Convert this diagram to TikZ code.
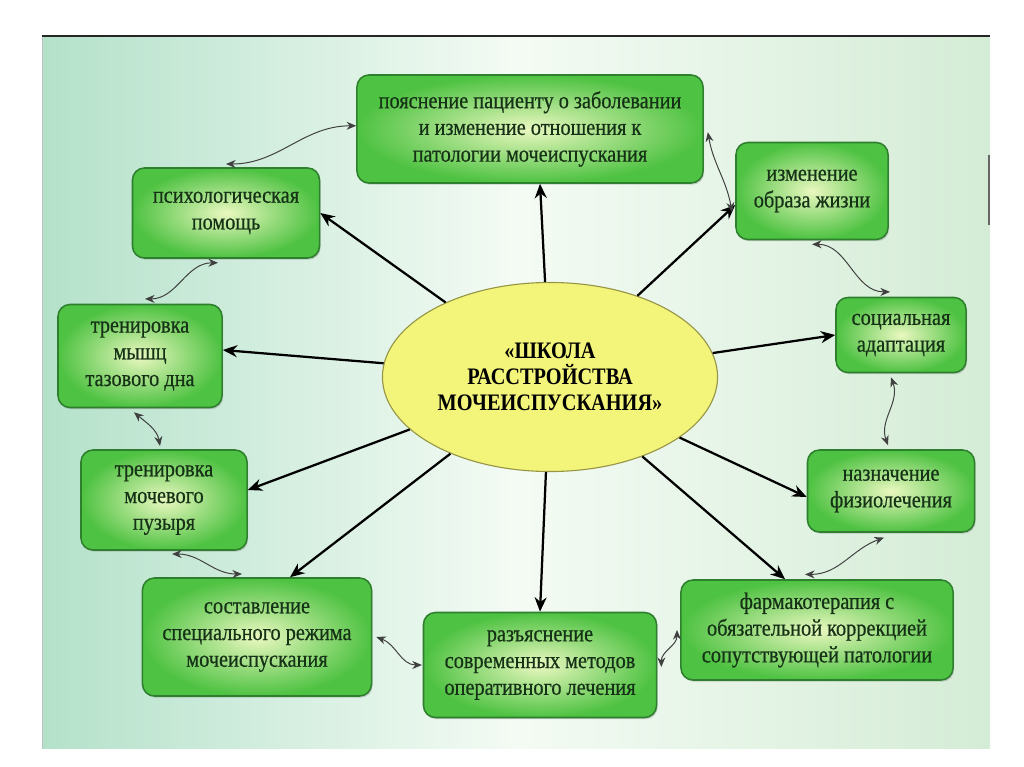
\documentclass[tikz,border=0pt]{standalone}
\usepackage{fontspec}
\setmainfont{Liberation Serif}
\newfontfamily\boxfont{Liberation Serif}[FakeStretch=0.86,FakeBold=0.6]
\newfontfamily\hubfont{Liberation Serif}[FakeStretch=0.86,BoldFont={Liberation Serif Bold}]
\usetikzlibrary{arrows.meta,shadows,shapes.geometric}
\definecolor{boxedge}{RGB}{46,128,46}
\definecolor{boxout}{RGB}{78,194,66}
\definecolor{boxin}{RGB}{234,248,192}
\definecolor{txt}{RGB}{22,50,22}
\definecolor{ellfill}{RGB}{243,244,122}
\definecolor{elledge}{RGB}{150,150,70}
\definecolor{bgleft}{RGB}{180,225,202}
\definecolor{bgmid}{RGB}{244,251,244}
\definecolor{bgright}{RGB}{212,236,214}
\tikzset{
  box/.style={draw=boxedge, line width=1.1pt, rounded corners=0.3cm,
    inner color=boxin, outer color=boxout, inner sep=0pt, align=center,
    text=txt, font=\boxfont\fontsize{16.8}{19}\selectfont,
    drop shadow={shadow xshift=0.8pt, shadow yshift=-1.2pt, opacity=0.35}},
  hub/.style={ellipse, draw=elledge, fill=ellfill, line width=0.8pt,
    inner sep=0pt, align=center, font=\hubfont\bfseries\fontsize{16.8}{18.5}\selectfont},
  spoke/.style={line width=1.6pt, -{Stealth[length=3.6mm,width=3mm]}},
  wav/.style={line width=0.7pt, draw=black!75,
    {Stealth[length=2.4mm,width=2mm]}-{Stealth[length=2.4mm,width=2mm]}},
}
\begin{document}
\begin{tikzpicture}[x=0.025cm,y=0.025cm]
\useasboundingbox (0,0) rectangle (1024,-767);
\fill[white] (0,0) rectangle (1024,-767);
\shade[left color=bgleft, right color=bgright, middle color=bgmid] (42,-36) rectangle (990,-748);
\draw[black!25, line width=0.6pt] (42,-748) -- (42,-36);
\draw[black!85, line width=1.4pt] (42,-36) -- (990,-36);
\draw[black!60, line width=2pt] (989,-155) -- (989,-225);

\node[hub, minimum width=8.375cm, minimum height=4.725cm] (c) at (550,-377) {«ШКОЛА\\РАССТРОЙСТВА\\МОЧЕИСПУСКАНИЯ»};

\node[box, minimum width=8.65cm, minimum height=2.7cm] (n1) at (530,-129) {пояснение пациенту о заболевании\\и изменение отношения к\\патологии мочеиспускания};
\node[box, minimum width=3.8cm, minimum height=2.425cm] (n2) at (812,-191) {изменение\\образа жизни};
\node[box, minimum width=4.675cm, minimum height=2.25cm] (n3) at (226,-213) {психологическая\\помощь};
\node[box, minimum width=4.1cm, minimum height=2.575cm] (n4) at (140,-356) {тренировка\\мышц\\тазового дна};
\node[box, minimum width=3.25cm, minimum height=1.875cm] (n5) at (901,-335) {социальная\\адаптация};
\node[box, minimum width=4.15cm, minimum height=2.5cm] (n6) at (164,-500) {тренировка\\мочевого\\пузыря};
\node[box, minimum width=4.175cm, minimum height=2.05cm] (n7) at (891,-491) {назначение\\физиолечения};
\node[box, minimum width=5.725cm, minimum height=2.95cm] (n8) at (257,-637) {составление\\специального режима\\мочеиспускания};
\node[box, minimum width=5.825cm, minimum height=2.625cm] (n9) at (540,-665) {разъяснение\\современных методов\\оперативного лечения};
\node[box, minimum width=6.8cm, minimum height=2.5cm] (n10) at (817,-630) {фармакотерапия с\\обязательной коррекцией\\сопутствующей патологии};

% spokes
\draw[spoke] (c) -- ([xshift=0.25cm]n1.south);
\draw[spoke] (c) -- ([yshift=-0.35cm]n2.west);
\draw[spoke] (c) -- (n3.east);
\draw[spoke] (c) -- ([yshift=0.15cm]n4.east);
\draw[spoke] (c) -- (n5.west);
\draw[spoke] (c) -- ([yshift=0.25cm]n6.east);
\draw[spoke] (c) -- ([yshift=-0.15cm]n7.west);
\draw[spoke] (c) -- ([xshift=0.825cm]n8.north);
\draw[spoke] (c) -- (n9.north);
\draw[spoke] (c) -- ([xshift=-0.8cm]n10.north);

% wavy links
\draw[wav] ([yshift=0.08cm]n1.west) to[out=180,in=0] ([yshift=0.08cm]n3.north);
\draw[wav] ([xshift=-0.2cm,yshift=-0.1cm]n3.south) to[out=180,in=0] ([xshift=0.125cm,yshift=0.12cm]n4.north);
\draw[wav] ([xshift=-0.15cm,yshift=-0.1cm]n4.south) to[out=-40,in=100] ([xshift=-0.1cm,yshift=0.08cm]n6.north);
\draw[wav] ([xshift=0.2cm,yshift=-0.08cm]n6.south) to[out=0,in=180] ([xshift=-0.375cm,yshift=0.08cm]n8.north);
\draw[wav] ([xshift=0.1cm]n8.east) to[out=-20,in=180] ([xshift=-0.02cm]n9.west);
\draw[wav] ([xshift=0.1cm,yshift=-0.05cm]n9.east) to[out=90,in=-90] ([xshift=-0.08cm]n10.west);
\draw[wav] ([xshift=-0.3cm,yshift=0.12cm]n10.north) to[out=0,in=200] ([xshift=-0.175cm,yshift=-0.12cm]n7.south);
\draw[wav] ([xshift=-0.075cm,yshift=0.1cm]n7.north) to[out=110,in=-70] ([xshift=-0.25cm,yshift=-0.1cm]n5.south);
\draw[wav] ([yshift=-0.1cm]n2.south) to[out=0,in=180] ([xshift=-0.275cm,yshift=0.12cm]n5.north);
\draw[wav] ([xshift=0.1cm,yshift=-0.08cm]n1.east) to[out=-80,in=100] ([xshift=-0.08cm,yshift=-0.525cm]n2.west);
\end{tikzpicture}
\end{document}
